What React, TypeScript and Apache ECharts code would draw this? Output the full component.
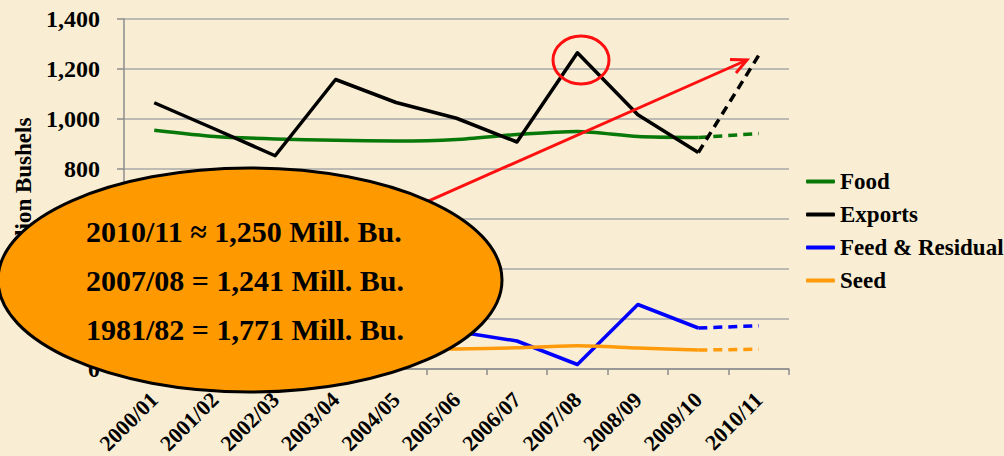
import React, { useEffect, useRef } from 'react';
import * as echarts from 'echarts';

const categories = ['2000/01', '2001/02', '2002/03', '2003/04', '2004/05', '2005/06', '2006/07', '2007/08', '2008/09', '2009/10', '2010/11'];
const food = [955, 930, 920, 915, 912, 918, 938, 950, 930, 926, 942];
const exportsData = [1065, 960, 853, 1158, 1066, 1003, 908, 1265, 1017, 866, 1255];
const feed = [300, 183, 116, 203, 181, 150, 112, 18, 258, 164, 173];
const seed = [80, 83, 84, 80, 78, 80, 85, 93, 84, 76, 79];
const yMin = 0;
const yMax = 1400;
const yInterval = 200;
const noteLines = ['2010/11 \u2248 1,250 Mill. Bu.', '2007/08 = 1,241 Mill. Bu.', '1981/82 = 1,771 Mill. Bu.'];

const FONT = '"Liberation Serif", "Times New Roman", serif';

const actual = (arr: number[]) => arr.map((v, i) => (i <= arr.length - 2 ? v : null));
const projected = (arr: number[]) => arr.map((v, i) => (i >= arr.length - 2 ? v : null));

export default function App() {
  const ref = useRef<HTMLDivElement>(null);
  useEffect(() => {
    document.body.style.margin = '0';
    if (!ref.current) return;
    const chart = echarts.init(ref.current, undefined, { renderer: 'svg' });

    const mk = (name: string, data: number[], color: string, smooth: number | boolean, dashed: boolean) => ({
      name,
      type: 'line',
      data: dashed ? projected(data) : actual(data),
      showSymbol: false,
      symbol: 'none',
      smooth,
      connectNulls: false,
      color,
      lineStyle: { color, width: 3.5, type: dashed ? [9, 6] : 'solid', cap: 'butt', join: 'round' },
      z: 3,
    });

    // arrow geometry
    const ax1 = 300, ay1 = 258, ax2 = 747, ay2 = 60;
    const ang = Math.atan2(ay2 - ay1, ax2 - ax1);
    const hl = 17, ha = 0.45;
    const h1 = [ax2 - hl * Math.cos(ang - ha), ay2 - hl * Math.sin(ang - ha)];
    const h2 = [ax2 - hl * Math.cos(ang + ha), ay2 - hl * Math.sin(ang + ha)];

    chart.setOption({
      animation: false,
      backgroundColor: '#f9eed3',
      grid: { left: 124, right: 215, top: 19, bottom: 87, containLabel: false, outerBoundsMode: 'none' },
      legend: {
        data: ['Food', 'Exports', 'Feed & Residual', 'Seed'],
        orient: 'vertical',
        left: 801,
        top: 165,
        itemWidth: 29,
        itemHeight: 4,
        itemGap: 10,
        icon: 'roundRect',
        textStyle: { fontFamily: FONT, fontWeight: 'bold', fontSize: 23, color: '#000', lineHeight: 23 },
      },
      xAxis: {
        type: 'category',
        data: categories,
        boundaryGap: true,
        axisLine: { lineStyle: { color: '#8c8c8c', width: 1.5 } },
        axisTick: { show: true, length: 6, lineStyle: { color: '#8c8c8c', width: 1.5 } },
        axisLabel: { rotate: 45, interval: 0, margin: 27, hideOverlap: false, fontFamily: FONT, fontWeight: 'bold', fontSize: 22, color: '#000' },
      },
      yAxis: {
        type: 'value',
        min: yMin,
        max: yMax,
        interval: yInterval,
        name: 'Million Bushels',
        nameLocation: 'middle',
        nameGap: 88,
        nameRotate: 90,
        nameTextStyle: { fontFamily: FONT, fontWeight: 'bold', fontSize: 23, color: '#000' },
        axisLine: { show: true, lineStyle: { color: '#8c8c8c', width: 1.5 } },
        axisTick: { show: true, length: 7, lineStyle: { color: '#8c8c8c', width: 1.5 } },
        splitLine: { show: true, lineStyle: { color: '#a8a8a8', width: 1.5 } },
        axisLabel: {
          margin: 24,
          fontFamily: FONT,
          fontWeight: 'bold',
          fontSize: 24,
          color: '#000',
          formatter: (v: number) => v.toLocaleString('en-US'),
        },
      },
      series: [
        mk('Food', food, '#087808', 0.25, false),
        mk('Exports', exportsData, '#000000', false, false),
        mk('Feed & Residual', feed, '#0000ff', false, false),
        mk('Seed', seed, '#ff9a0a', 0.25, false),
        mk('Food (proj.)', food, '#087808', false, true),
        mk('Exports (proj.)', exportsData, '#000000', false, true),
        mk('Feed & Residual (proj.)', feed, '#0000ff', false, true),
        mk('Seed (proj.)', seed, '#ff9a0a', false, true),
      ],
      graphic: {
        elements: [
          {
            type: 'ellipse',
            shape: { cx: 581, cy: 60, rx: 28, ry: 24 },
            style: { fill: 'none', stroke: '#ff1010', lineWidth: 3 },
            z: 100,
          },
          {
            type: 'line',
            shape: { x1: ax1, y1: ay1, x2: ax2, y2: ay2 },
            style: { stroke: '#ff1010', lineWidth: 3 },
            z: 100,
          },
          {
            type: 'polyline',
            shape: { points: [h1, [ax2, ay2], h2] },
            style: { stroke: '#ff1010', lineWidth: 3, fill: 'none', lineJoin: 'miter' },
            z: 100,
          },
          {
            type: 'ellipse',
            shape: { cx: 250, cy: 280, rx: 252, ry: 112 },
            style: { fill: '#ff9900', stroke: '#000', lineWidth: 3 },
            z: 110,
          },
          ...noteLines.map((t, i) => ({
            type: 'text',
            x: 86,
            y: 231 + i * 49,
            style: {
              text: t,
              fill: '#000',
              font: `bold 30px ${FONT}`,
              verticalAlign: 'middle',
              align: 'left',
            },
            z: 120,
          })),
        ],
      },
    });
    return () => chart.dispose();
  }, []);
  return <div ref={ref} style={{ width: 1004, height: 456 }} />;
}
